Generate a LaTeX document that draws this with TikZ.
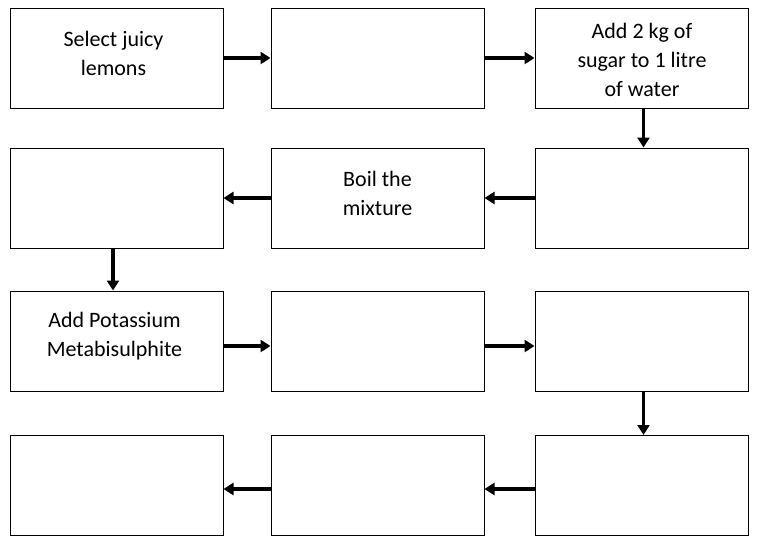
\documentclass[tikz,border=0pt]{standalone}
\usepackage{fontspec}
\setmainfont{Carlito}
\usetikzlibrary{arrows.meta}
\usetikzlibrary{calc}

\begin{document}
\begin{tikzpicture}[x=0.75pt, y=-0.75pt, >={Triangle[length=7.5pt,width=9pt]},
  box/.style={draw, line width=0.75pt, minimum width=159.75pt, minimum height=75pt, inner sep=0pt},
  lbl/.style={align=center, font=\fontsize{16.5}{21.75}\selectfont},
  flow/.style={->, line width=2.8pt}]

  \useasboundingbox (0,0) rectangle (757,553);

%%%%%%%%%%%% Boxes
  \foreach \n/\x/\y in {b1/116.5/58, b2/377.5/58, b3/641.5/58,
                        b4/641.5/198, b5/377.5/198, b6/116.5/198,
                        b7/116.5/341, b8/377.5/341, b9/641.5/341,
                        b10/641.5/485.5, b11/377.5/485.5, b12/116.5/485.5}
    \node[box] (\n) at (\x,\y) {};

  \node[lbl] (t1) at (113.5,53) {Select juicy\\lemons};
  \node[lbl] (t3) at (642,60) {Add 2 kg of\\sugar to 1 litre\\of water};
  \node[lbl] (t5) at (377.5,193) {Boil the\\mixture};
  \node[lbl] (t7) at (114.5,336.5) {Add Potassium\\Metabisulphite};

%%%%%%%%%%%% Arrows
  \draw[flow] (b1) -- (b2);
  \draw[flow] (b2) -- (b3);
  \draw[flow] ($(b3.south)+(2,0)$) -- ($(b4.north)+(2,0)$);
  \draw[flow] (b4) -- (b5);
  \draw[flow] (b5) -- (b6);
  \draw[flow] ($(b6.south)+(-3.5,0)$) -- ($(b7.north)+(-3.5,0)$);
  \draw[flow] ($(b7.east)+(0,5)$) -- ($(b8.west)+(0,5)$);
  \draw[flow] ($(b8.east)+(0,5)$) -- ($(b9.west)+(0,5)$);
  \draw[flow] ($(b9.south)+(2,0)$) -- ($(b10.north)+(2,0)$);
  \draw[flow] ($(b10.west)+(0,3.5)$) -- ($(b11.east)+(0,3.5)$);
  \draw[flow] ($(b11.west)+(0,3.5)$) -- ($(b12.east)+(0,3.5)$);
\end{tikzpicture}
\end{document}
